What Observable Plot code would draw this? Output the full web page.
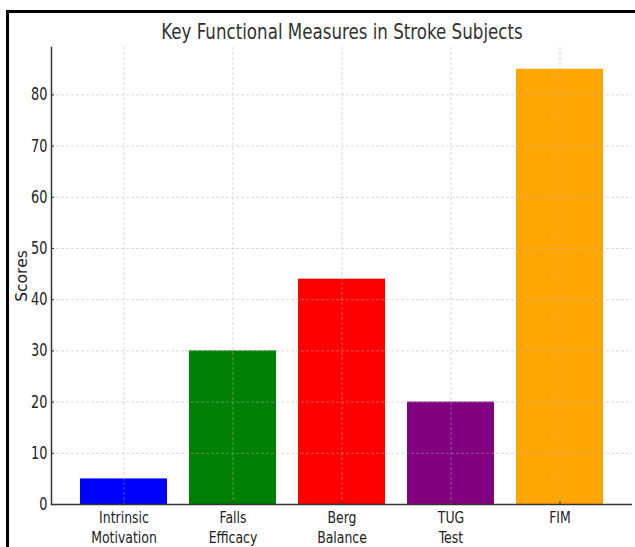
<!DOCTYPE html>
<html>
<head>
<meta charset="utf-8">
<script src="https://cdn.jsdelivr.net/npm/d3@7"></script>
<script src="https://cdn.jsdelivr.net/npm/@observablehq/plot@0.6"></script>
<style>
  html, body { margin: 0; padding: 0; background: #fff; }
  #wrap { position: relative; width: 635px; height: 547px; overflow: hidden; }
  #frame { position: absolute; left: 6px; top: 10px; width: 640px; height: 560px;
           border-top: 3px solid #000; border-left: 3px solid #000; box-sizing: border-box; }
  #chart { position: absolute; left: 0; top: 0; }
  svg text { font-family: "DejaVu Sans Condensed", "DejaVu Sans", sans-serif; font-stretch: condensed; }
  svg .ylab text { font-family: "DejaVu Sans", sans-serif; font-stretch: normal; }
</style>
</head>
<body>
<div id="wrap"><div id="frame"></div><div id="chart"></div></div>
<script>
const categories = ["Intrinsic Motivation", "Falls Efficacy", "Berg Balance", "TUG Test", "FIM"];
const scores = [5, 30, 44, 20, 85];
const colors = ["#0000ff", "#008000", "#ff0000", "#800080", "#ffa500"];
const yTicks = [0, 10, 20, 30, 40, 50, 60, 70, 80];
const title = "Key Functional Measures in Stroke Subjects";
const yLabel = "Scores";

const data = categories.map((c, i) => ({category: c, score: scores[i], color: colors[i]}));

const W = 635, H = 547, mL = 51, mR = 3, mT = 47, mB = 43;
const frameW = W - mL - mR, frameH = H - mT - mB;

const chart = Plot.plot({
  width: W,
  height: H,
  marginLeft: mL,
  marginRight: mR,
  marginTop: mT,
  marginBottom: mB,
  style: {background: "transparent", color: "#333"},
  x: {domain: categories, paddingInner: 0.2, paddingOuter: 0.241, align: 0.5},
  y: {domain: [0, 89.25]},
  marks: [
    Plot.barY(data, {x: "category", y: "score", fill: "color"}),
    Plot.gridX(categories, {stroke: "#b0b0b0", strokeOpacity: 0.6, strokeDasharray: "3,2", strokeWidth: 0.8}),
    Plot.gridY(yTicks, {stroke: "#b0b0b0", strokeOpacity: 0.6, strokeDasharray: "3,2", strokeWidth: 0.8}),
    Plot.axisY(yTicks, {tickSize: 0, tickPadding: 4, fontSize: 17, fill: "#222", label: null, className: "cmp"}),
    Plot.ruleY(yTicks, {y: d => d, insetRight: frameW - 3, stroke: "#333", strokeWidth: 1}),
    Plot.axisX(categories, {tickSize: 0, tickPadding: 5, fontSize: 16.5, fill: "#222", lineHeight: 1.18,
      tickFormat: d => d.replace(" ", "\n"), label: null, className: "cmp"}),
    Plot.ruleX(categories, {x: d => d, insetTop: frameH - 3, stroke: "#333", strokeWidth: 1}),
    Plot.ruleY([0], {stroke: "#333", strokeWidth: 1.5}),
    Plot.frame({anchor: "left", stroke: "#333", strokeWidth: 1.5}),
    Plot.text([yLabel], {frameAnchor: "left", dx: -29, rotate: -90, textAnchor: "middle", fontSize: 15.5, fill: "#222", text: d => d, className: "ylab"}),
    Plot.text([title], {frameAnchor: "top", dy: -23, fontSize: 20.5, fill: "#333", text: d => d, className: "ttl"})
  ]
});
document.getElementById("chart").appendChild(chart);

function squeeze(sel, factor) {
  chart.querySelectorAll(sel).forEach(t => {
    const spans = t.querySelectorAll("tspan");
    const targets = spans.length ? spans : [t];
    targets.forEach(el => {
      const len = el.getComputedTextLength();
      el.setAttribute("textLength", (len * factor).toFixed(1));
      el.setAttribute("lengthAdjust", "spacingAndGlyphs");
    });
  });
}
squeeze(".cmp text", 0.84);
squeeze(".ttl text", 0.905);
</script>
</body>
</html>
